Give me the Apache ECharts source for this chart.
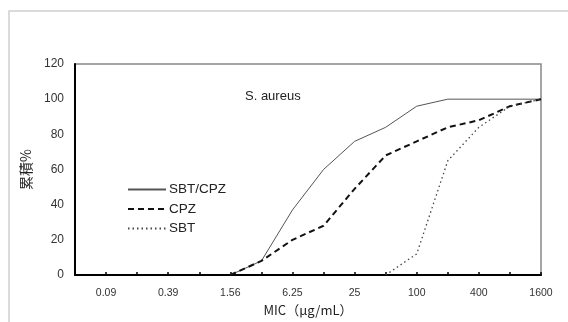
<!DOCTYPE html>
<html>
<head>
<meta charset="utf-8">
<script src="https://cdn.jsdelivr.net/npm/echarts@6/dist/echarts.min.js"></script>
<style>
  html, body { margin: 0; padding: 0; background: #fff; }
  #chart { width: 568px; height: 322px; }
</style>
</head>
<body>
<div id="chart"></div>
<script>
// MIC doubling steps, only every other one is labelled
const micSteps = ['0.05', '0.09', '0.19', '0.39', '0.78', '1.56', '3.13', '6.25',
  '12.5', '25', '50', '100', '200', '400', '800', '1600'];
const sbtCpz = [null, null, null, null, null, 0, 8, 37, 60, 76, 84, 96, 100, 100, 100, 100];
const cpz = [null, null, null, null, null, 0, 8, 20, 28, 49, 68, 76, 84, 88, 96, 100];
const sbt = [null, null, null, null, null, null, null, null, null, null, 0, 12, 65, 84, 96, 100];
const yTicks = { min: 0, max: 120, interval: 20 };

const textFont = '"Liberation Sans", Arial, sans-serif';
const jpFont = '"Noto Sans CJK JP", sans-serif';

const chart = echarts.init(document.getElementById('chart'));

const option = {
  animation: false,
  backgroundColor: '#fff',
  title: {
    text: 'S. aureus',
    left: 245,
    top: 90,
    padding: 0,
    textStyle: { fontFamily: textFont, fontSize: 13, fontWeight: 'normal', color: '#222' }
  },
  graphic: [
    {
      type: 'rect',
      shape: { x: 9, y: 11, width: 640, height: 400 },
      style: { fill: 'none', stroke: '#cfcfcf', lineWidth: 1.5 },
      silent: true
    }
  ],
  legend: {
    orient: 'vertical',
    left: 127,
    top: 182,
    padding: 0,
    itemWidth: 38,
    itemHeight: 10,
    itemGap: 4.5,
    itemStyle: { opacity: 0 },
    textStyle: {
      fontFamily: textFont, fontSize: 13.5, lineHeight: 15, color: '#222',
      padding: [0, 0, 0, -2]
    },
    data: ['SBT/CPZ', 'CPZ', 'SBT']
  },
  grid: {
    left: 75,
    right: 27,
    top: 64,
    bottom: 47,
    show: true,
    borderColor: '#888',
    borderWidth: 1.5,
    containLabel: false
  },
  xAxis: {
    type: 'category',
    data: micSteps,
    boundaryGap: false,
    name: 'MIC（μg/mL）',
    nameLocation: 'middle',
    nameGap: 27,
    nameTextStyle: { fontFamily: jpFont, fontSize: 13, color: '#222' },
    axisLine: { lineStyle: { color: '#000', width: 2 } },
    axisTick: { inside: true, length: 3, interval: 0, lineStyle: { color: '#000', width: 1.5 } },
    axisLabel: {
      interval: (i) => i % 2 === 1,
      margin: 13,
      fontFamily: textFont,
      fontSize: 10.5,
      color: '#333'
    },
    splitLine: { show: false }
  },
  yAxis: {
    type: 'value',
    min: yTicks.min,
    max: yTicks.max,
    interval: yTicks.interval,
    name: '累積%',
    nameLocation: 'middle',
    nameRotate: 90,
    nameGap: 35,
    nameTextStyle: { fontFamily: jpFont, fontSize: 14, color: '#222' },
    axisLine: { show: true, lineStyle: { color: '#000', width: 2 } },
    axisTick: { show: false },
    axisLabel: { margin: 11, fontFamily: textFont, fontSize: 12, color: '#333' },
    splitLine: { show: false }
  },
  series: [
    {
      name: 'SBT/CPZ',
      type: 'line',
      data: sbtCpz,
      symbol: 'none',
      lineStyle: { color: '#555', width: 1 },
      itemStyle: { color: '#555' }
    },
    {
      name: 'CPZ',
      type: 'line',
      data: cpz,
      symbol: 'none',
      lineStyle: { color: '#111', width: 2, type: [6, 4] },
      itemStyle: { color: '#111' }
    },
    {
      name: 'SBT',
      type: 'line',
      data: sbt,
      symbol: 'none',
      lineStyle: { color: '#444', width: 1.3, type: [1.5, 3] },
      itemStyle: { color: '#444' }
    }
  ]
};

chart.setOption(option);
</script>
</body>
</html>
